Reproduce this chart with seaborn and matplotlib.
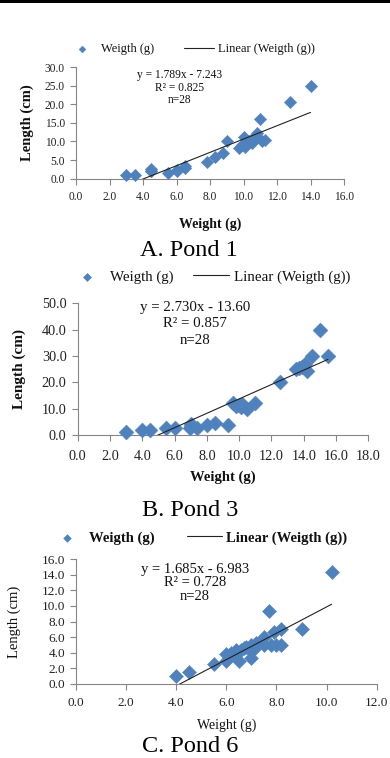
import numpy as np
import pandas as pd
import matplotlib
matplotlib.use("Agg")
import matplotlib.pyplot as plt
import seaborn as sns

# ---------------- data ----------------
pond1_weight = [3.0, 3.5, 4.5, 4.5, 4.5, 5.5, 6.0, 6.0, 6.5, 6.5, 7.8, 8.3, 8.8, 9.0,
                9.75, 9.9, 10.0, 10.1, 10.2, 10.3, 10.5, 10.7, 10.8, 11.0, 11.1, 11.3, 12.8, 14.0]
pond1_length = [1.0, 1.0, 2.5, 2.0, 2.2, 1.6, 2.3, 2.0, 3.5, 2.8, 4.5, 5.7, 6.8, 10.0,
                8.3, 9.0, 11.2, 8.5, 9.5, 10.0, 9.5, 11.5, 12.2, 16.0, 10.0, 10.4, 20.6, 24.9]

pond3_weight = [3.0, 4.0, 4.5, 5.5, 6.0, 7.0, 6.95, 7.0, 7.4, 8.0, 8.5, 9.3, 9.6, 9.8,
                10.0, 10.1, 10.2, 10.5, 11.0, 12.5, 13.5, 13.7, 13.9, 14.1, 14.2, 14.5, 15.0, 15.5]
pond3_length = [1.0, 1.8, 2.0, 2.8, 2.5, 4.2, 2.8, 3.5, 2.8, 3.8, 4.6, 3.8, 12.0, 11.0,
                11.5, 10.5, 11.8, 10.0, 12.2, 20.0, 25.0, 25.5, 26.0, 27.0, 24.2, 30.0, 40.0, 30.0]

pond6_weight = [4.0, 4.5, 5.5, 6.0, 6.0, 6.1, 6.2, 6.3, 6.4, 6.5, 6.6, 6.7, 6.8, 7.0,
                7.0, 7.0, 7.1, 7.2, 7.5, 7.5, 7.7, 7.8, 7.9, 8.0, 8.2, 8.2, 9.0, 10.2]
pond6_length = [1.0, 1.6, 2.6, 3.0, 3.9, 3.6, 4.0, 3.8, 4.3, 3.0, 4.4, 4.6, 4.8, 5.0,
                3.3, 4.2, 4.5, 5.3, 5.0, 6.0, 9.4, 5.0, 6.7, 5.0, 7.0, 5.0, 7.0, 14.3]

fit_slope = [1.789, 2.730, 1.685]
fit_intercept = [-7.243, -13.60, -6.983]
fit_r2 = [0.825, 0.857, 0.728]
fit_n = [28, 28, 28]

captions = ["A. Pond 1", "B. Pond 3", "C. Pond 6"]
xmax_list = [16.0, 18.0, 12.0]
ymax_list = [30.0, 50.0, 16.0]
xstep_list = [2.0, 2.0, 2.0]
ystep_list = [5.0, 10.0, 2.0]

series_label = "Weigth (g)"
trend_label = "Linear (Weigth (g))"
xlabel_text = "Weight (g)"
ylabel_text = "Length (cm)"

# ---------------- figure ----------------
sns.set_theme(style="white")
plt.rcParams["font.family"] = ["Liberation Serif", "DejaVu Serif"]

W, H = 390, 758
fig = plt.figure(figsize=(W / 100, H / 100), dpi=100)
fig.patch.set_facecolor("white")

def fx(px):
    return px / W

def fy(py):
    return 1 - py / H

# black band at the very top
fig.patches.append(plt.Rectangle((0, fy(2.5)), 1, 2.5 / H, transform=fig.transFigure,
                                 facecolor="black", edgecolor="none"))

BLUE = "#4F81BD"
AXC = "#868686"

panels = [
    dict(w=pond1_weight, l=pond1_length, ax=(76, 344, 67, 178.7),
         legend_y=49, legend_x=67, leg_fs=9, leg_bold=False, hl=2.4, cs=2.4,
         eq_x=180, eq_y=(75, 88, 100), eq_fs=8.3,
         tick_fs=8.3, tick_y=197, xl_y=224, xl_fs=10, xl_bold=True,
         yl_x=27, yl_fs=10.5, yl_bold=True, cap_y=250, cap_x=189, ms=40),
    dict(w=pond3_weight, l=pond3_length, ax=(77.7, 368.3, 303.3, 435),
         legend_y=277, legend_x=69, leg_fs=10.8, leg_bold=False, hl=2.4, cs=1.35,
         eq_x=195, eq_y=(308, 323, 340), eq_fs=10.7,
         tick_fs=10.3, tick_y=457, xl_y=477, xl_fs=10.5, xl_bold=True,
         yl_x=19, yl_fs=11, yl_bold=True, cap_y=511, cap_x=190, ms=58),
    dict(w=pond6_weight, l=pond6_length, ax=(76, 376.7, 559, 684),
         legend_y=538, legend_x=49.5, leg_fs=10.5, leg_bold=True, hl=2.4, cs=2.2,
         eq_x=195, eq_y=(569, 582, 596), eq_fs=10.5,
         tick_fs=9.5, tick_y=703, xl_y=725, xl_fs=10, xl_bold=False,
         yl_x=14, yl_fs=10.5, yl_bold=False, cap_y=747, cap_x=190, ms=52),
]

for i, p in enumerate(panels):
    x0, x1, y0, y1 = p["ax"]
    ax = fig.add_axes([fx(x0), fy(y1), fx(x1) - fx(x0), (y1 - y0) / H])
    df = pd.DataFrame({"weight": p["w"], "length": p["l"]})
    sns.scatterplot(data=df, x="weight", y="length", ax=ax, marker="D", s=p["ms"],
                    color=BLUE, edgecolor=BLUE, linewidth=0.3, label=series_label,
                    zorder=3, clip_on=False)
    xs = np.array([min(p["w"]), max(p["w"])])
    ax.plot(xs, fit_slope[i] * xs + fit_intercept[i], color="#222222", lw=0.8,
            label=trend_label, zorder=4)

    ax.set_xlim(0, xmax_list[i])
    ax.set_ylim(0, ymax_list[i])
    ax.set_xticks(np.arange(0, xmax_list[i] + 0.01, xstep_list[i]))
    ax.set_yticks(np.arange(0, ymax_list[i] + 0.01, ystep_list[i]))
    ax.set_xticklabels([])
    ax.set_yticklabels([f"{v:.1f}" for v in ax.get_yticks()], fontsize=p["tick_fs"])
    ax.set_xlabel("")
    ax.set_ylabel("")
    for s in ["top", "right"]:
        ax.spines[s].set_visible(False)
    for s in ["left", "bottom"]:
        ax.spines[s].set_color(AXC)
        ax.spines[s].set_linewidth(0.8)
    ax.tick_params(axis="both", direction="out", length=4, width=0.8, color=AXC,
                   left=True, bottom=True, pad=4, labelcolor="#222222")
    ax.patch.set_alpha(0)

    # x tick labels placed at figure row
    for v in ax.get_xticks():
        xpix = x0 + (x1 - x0) * v / xmax_list[i]
        fig.text(fx(xpix), fy(p["tick_y"]), f"{v:.1f}", ha="center", va="center",
                 fontsize=p["tick_fs"], color="#222222")

    # legend
    h, lab = ax.get_legend_handles_labels()
    leg = ax.legend(h, lab, loc="center left", bbox_to_anchor=(fx(p["legend_x"]), fy(p["legend_y"])),
                    bbox_transform=fig.transFigure, ncol=2, frameon=False,
                    fontsize=p["leg_fs"], handlelength=p["hl"], handletextpad=0.3,
                    columnspacing=p["cs"], markerscale=0.55, borderpad=0, borderaxespad=0)
    for t in leg.get_texts():
        t.set_color("#111111")
        if p["leg_bold"]:
            t.set_fontweight("bold")

    # equation
    eq_lines = [f"y = {fit_slope[i]:.3f}x - {abs(fit_intercept[i]):.3f}" if i != 1
                else f"y = {fit_slope[i]:.3f}x - {abs(fit_intercept[i]):.2f}",
                f"R² = {fit_r2[i]:.3f}", f"n={fit_n[i]}"]
    for txt, yy in zip(eq_lines, p["eq_y"]):
        fig.text(fx(p["eq_x"]), fy(yy), txt, ha="center", va="center",
                 fontsize=p["eq_fs"], color="#111111")

    # axis labels
    fig.text(fx((x0 + x1) / 2), fy(p["xl_y"]), xlabel_text, ha="center", va="center",
             fontsize=p["xl_fs"], fontweight="bold" if p["xl_bold"] else "normal", color="#111111")
    fig.text(fx(p["yl_x"]), fy((y0 + y1) / 2), ylabel_text, ha="center", va="center",
             rotation=90, fontsize=p["yl_fs"],
             fontweight="bold" if p["yl_bold"] else "normal", color="#111111")
    # caption
    fig.text(fx(p["cap_x"]), fy(p["cap_y"]), captions[i], ha="center", va="center",
             fontsize=17.5, color="black")

fig.savefig("out.png", dpi=100, facecolor="white")
